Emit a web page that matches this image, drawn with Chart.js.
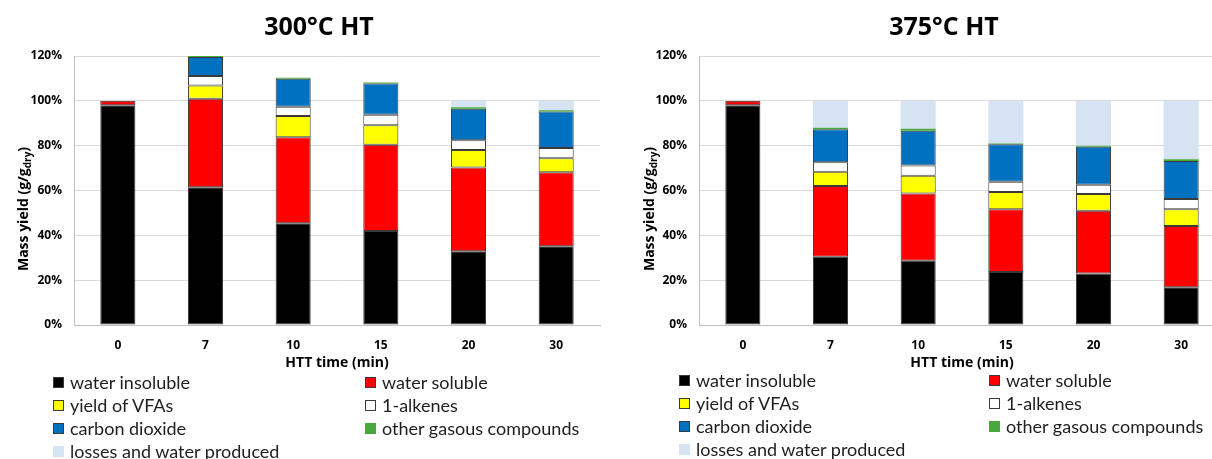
<!DOCTYPE html>
<html>
<head>
<meta charset="utf-8">
<script src="https://cdn.jsdelivr.net/npm/chart.js@4.4.1/dist/chart.umd.min.js"></script>
<style>
  html, body { margin:0; padding:0; background:#fff; }
  body { width:1212px; height:459px; overflow:hidden; position:relative; }
  .wrap { position:absolute; top:0; height:459px; }
  .legend { position:absolute; font-family:Lato, "Open Sans", sans-serif; font-size:18px; color:#1e1e1e; }
  .legend .item { position:absolute; white-space:nowrap; height:23px; line-height:23px; }
  .legend .box { position:absolute; left:0; top:6px; width:11px; height:11px; box-sizing:border-box; }
  .legend .txt { position:absolute; left:17px; top:0; }
</style>
</head>
<body>
<div class="wrap" style="left:0;width:606px;"><canvas id="c300" width="606" height="459"></canvas></div>
<div class="wrap" style="left:606px;width:630px;"><canvas id="c375" width="630" height="459"></canvas></div>
<div class="legend" id="leg300" style="left:53px;top:371px;"></div>
<div class="legend" id="leg375" style="left:679px;top:369px;"></div>
<script>
// ---- data ----
const categories = ['0', '7', '10', '15', '20', '30'];
const seriesNames = ['water insoluble', 'water soluble', 'yield of VFAs', '1-alkenes',
                     'carbon dioxide', 'other gasous compounds', 'losses and water produced'];
const titles = ['300°C HT', '375°C HT'];
const xTitle = 'HTT time (min)';

// 300 °C HT (% of dry mass)
const insoluble300 = [98, 61.4, 45.4, 41.9, 32.9, 35.1];
const soluble300   = [2, 39.5, 38.3, 38.5, 37.4, 33.0];
const vfa300       = [0, 5.9, 9.5, 8.7, 7.8, 6.3];
const alkenes300   = [0, 4.3, 4.2, 4.7, 4.3, 4.6];
const co2_300      = [0, 8.5, 12.5, 13.9, 14.1, 16.2];
const otherGas300  = [0, 0.4, 0.4, 0.5, 0.6, 0.6];
const losses300    = [0, 0, 0, 0, 2.9, 4.2];

// 375 °C HT
const insoluble375 = [98, 30.5, 28.7, 23.6, 23.0, 16.8];
const soluble375   = [2, 31.5, 30.0, 28.0, 28.0, 27.4];
const vfa375       = [0, 6.4, 7.9, 7.7, 7.4, 7.4];
const alkenes375   = [0, 4.2, 4.6, 4.6, 4.2, 4.6];
const co2_375      = [0, 14.7, 15.5, 16.7, 16.9, 17.0];
const otherGas375  = [0, 0.7, 0.9, 0.4, 0.5, 0.7];
const losses375    = [0, 12.0, 12.4, 19.0, 20.0, 26.1];

const yTicks = [0, 20, 40, 60, 80, 100, 120];

// ---- styles ----
const fillColors = ['#000000', '#FF0000', '#FFFF00', '#FFFFFF', '#0070C0', '#46A83E', '#D6E3F3'];
const hasBorder  = [true, true, true, true, true, false, false];
const edgeColor = '#3a3a3a';

function makeDatasets(seriesList) {
  return seriesList.map((vals, i) => ({
    label: seriesNames[i],
    data: vals.map(v => v === 0 ? null : v),
    backgroundColor: fillColors[i],
    borderColor: hasBorder[i] ? edgeColor : fillColors[i],
    borderWidth: hasBorder[i] ? 1 : 0,
    borderSkipped: false,
    barPercentage: 0.4,
    categoryPercentage: 1.0,
    stack: 's'
  }));
}

const titlePlugin = {
  id: 'customTitles',
  afterDraw(chart, args, opts) {
    const ctx = chart.ctx;
    const ca = chart.chartArea;
    ctx.save();
    // main title
    ctx.fillStyle = '#000';
    ctx.font = 'bold 25px "Open Sans"';
    ctx.textAlign = 'center';
    ctx.textBaseline = 'middle';
    ctx.fillText(opts.title, ca.left + 245, 28);
    // y axis title with subscript
    const main = 'Mass yield (g/g', sub = 'dry', close = ')';
    const fMain = 'bold 14px "Open Sans"', fSub = 'bold 10px "Open Sans"';
    ctx.font = fMain; const w1 = ctx.measureText(main).width, w3 = ctx.measureText(close).width;
    ctx.font = fSub; const w2 = ctx.measureText(sub).width;
    const total = w1 + w2 + w3;
    ctx.translate(opts.yTitleX, 209);
    ctx.rotate(-Math.PI / 2);
    ctx.textAlign = 'left';
    ctx.textBaseline = 'alphabetic';
    let x = -total / 2;
    ctx.font = fMain; ctx.fillText(main, x, 5); x += w1;
    ctx.font = fSub; ctx.fillText(sub, x, 8); x += w2;
    ctx.font = fMain; ctx.fillText(close, x, 5);
    ctx.restore();
  }
};

function makeChart(id, seriesList, title, yAxisWidth, rightPad, yTitleX) {
  return new Chart(document.getElementById(id), {
    type: 'bar',
    data: { labels: categories, datasets: makeDatasets(seriesList) },
    plugins: [titlePlugin],
    options: {
      responsive: false,
      animation: false,
      layout: { padding: { left: 0, top: 56, right: rightPad, bottom: 84 } },
      plugins: {
        legend: { display: false },
        tooltip: { enabled: false },
        title: { display: false },
        customTitles: { title: title, yTitleX: yTitleX }
      },
      scales: {
        x: {
          stacked: true,
          grid: { display: false },
          border: { display: true, color: '#BFBFBF', width: 1 },
          ticks: { color: '#000', font: { family: 'Open Sans', weight: 'bold', size: 12 }, padding: 5, maxRotation: 0 },
          title: { display: true, text: xTitle, color: '#000',
                   font: { family: 'Open Sans', weight: 'bold', size: 14 }, padding: { top: 0, bottom: 4 } },
          afterFit(scale) { scale.height = 50; }
        },
        y: {
          stacked: true,
          min: 0, max: 120,
          afterBuildTicks(scale) { scale.ticks = yTicks.map(v => ({ value: v })); },
          grid: { color: '#D9D9D9', lineWidth: 1, drawTicks: false },
          border: { display: true, color: '#BFBFBF', width: 1 },
          ticks: { color: '#000', font: { family: 'Open Sans', weight: 'bold', size: 12 }, padding: 12,
                   callback: v => v + '%' },
          afterFit(scale) { scale.width = yAxisWidth; }
        }
      }
    }
  });
}

makeChart('c300', [insoluble300, soluble300, vfa300, alkenes300, co2_300, otherGas300, losses300],
          titles[0], 74, 6, 23);
makeChart('c375', [insoluble375, soluble375, vfa375, alkenes375, co2_375, otherGas375, losses375],
          titles[1], 93, 11, 43);

function buildLegend(id, colOffset) {
  const el = document.getElementById(id);
  seriesNames.forEach((name, i) => {
    const item = document.createElement('div');
    item.className = 'item';
    item.style.left = (i % 2 === 0 ? 0 : colOffset) + 'px';
    item.style.top = (Math.floor(i / 2) * 23) + 'px';
    const box = document.createElement('div');
    box.className = 'box';
    box.style.background = fillColors[i];
    if (hasBorder[i]) box.style.border = '1px solid ' + edgeColor;
    const txt = document.createElement('span');
    txt.className = 'txt';
    txt.textContent = name;
    item.appendChild(box); item.appendChild(txt);
    el.appendChild(item);
  });
}
buildLegend('leg300', 312);
buildLegend('leg375', 310);
</script>
</body>
</html>
